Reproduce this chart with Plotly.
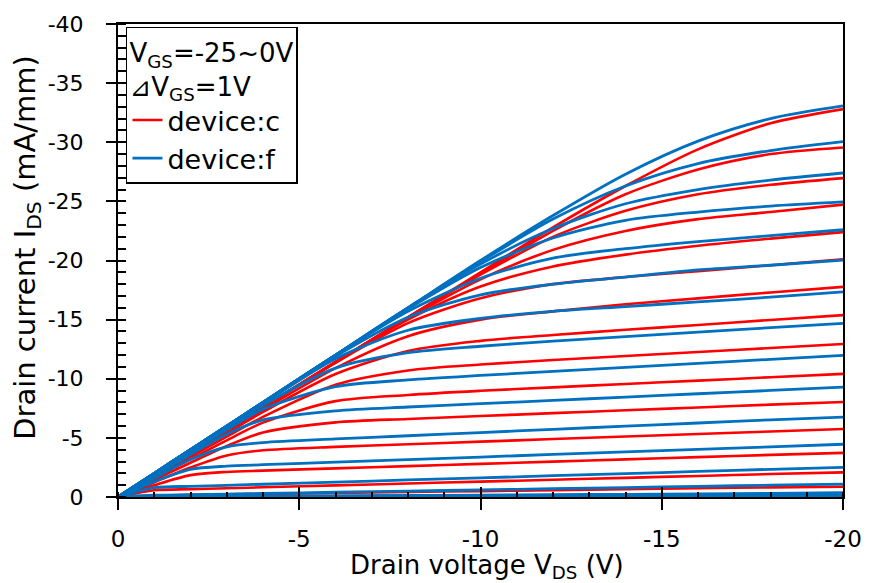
import plotly.graph_objects as go

# Drain voltage sample points (V)
vds = [0, -1, -2, -3, -4, -6, -8, -10, -12, -14, -16, -18, -20]

# Gate voltages, one output curve per step
vgs = [-25, -24, -23, -22, -21, -20, -19, -18, -17, -16, -15, -14, -13,
       -12, -11, -10, -9, -8, -7, -6, -5, -4, -3, -2, -1, 0]

# Drain current (mA/mm) for device c, ordered by vgs
ids_c = [
    [0, -1.9, -3.8, -5.7, -7.6, -11.4, -15.2, -19.0, -22.8, -26.3, -29.4, -31.6, -32.8],
    [0, -1.9, -3.8, -5.7, -7.6, -11.4, -15.2, -18.9, -22.5, -25.6, -27.7, -29.0, -29.56],
    [0, -1.9, -3.8, -5.7, -7.6, -11.4, -15.2, -18.8, -22.0, -24.2, -25.6, -26.4, -26.97],
    [0, -1.9, -3.8, -5.7, -7.6, -11.4, -15.1, -18.4, -20.9, -22.5, -23.5, -24.1, -24.73],
    [0, -1.9, -3.8, -5.7, -7.6, -11.4, -15.0, -17.8, -19.5, -20.5, -21.25, -21.85, -22.4],
    [0, -1.9, -3.8, -5.7, -7.6, -11.35, -14.7, -16.8, -18.0, -18.6, -19.1, -19.6, -20.1],
    [0, -1.85, -3.7, -5.55, -7.4, -10.9, -13.6, -15.0, -15.7, -16.3, -16.8, -17.3, -17.77],
    [0, -1.8, -3.6, -5.4, -7.19, -10.4, -12.35, -13.2, -13.7, -14.14, -14.55, -14.97, -15.38],
    [0, -1.7, -3.4, -5.1, -6.77, -9.49, -10.7, -11.2, -11.58, -11.92, -12.26, -12.6, -12.94],
    [0, -1.6, -3.2, -4.79, -6.29, -8.11, -8.63, -8.98, -9.27, -9.56, -9.84, -10.13, -10.41],
    [0, -1.45, -2.9, -4.31, -5.45, -6.31, -6.6, -6.85, -7.09, -7.33, -7.57, -7.81, -8.03],
    [0, -1.25, -2.49, -3.51, -3.95, -4.24, -4.46, -4.68, -4.9, -5.11, -5.33, -5.54, -5.75],
    [0, -1.0, -1.85, -2.12, -2.23, -2.42, -2.61, -2.8, -2.99, -3.18, -3.37, -3.56, -3.73],
    [0, -0.57, -0.66, -0.74, -0.82, -0.98, -1.14, -1.3, -1.46, -1.62, -1.78, -1.94, -2.08],
    [0, -0.13, -0.18, -0.22, -0.26, -0.34, -0.42, -0.5, -0.58, -0.66, -0.74, -0.81, -0.87],
    [0, -0.03, -0.05, -0.06, -0.07, -0.09, -0.11, -0.13, -0.15, -0.17, -0.2, -0.22, -0.25],
    [0, -0.02, -0.03, -0.03, -0.04, -0.05, -0.06, -0.06, -0.07, -0.08, -0.09, -0.1, -0.11],
    [0, -0.01, -0.02, -0.02, -0.03, -0.03, -0.04, -0.04, -0.05, -0.05, -0.06, -0.07, -0.07],
    [0, -0.01, -0.01, -0.02, -0.02, -0.02, -0.03, -0.03, -0.03, -0.04, -0.04, -0.05, -0.05],
    [0, -0.01, -0.01, -0.01, -0.02, -0.02, -0.02, -0.03, -0.03, -0.03, -0.04, -0.04, -0.04],
    [0, 0, -0.01, -0.01, -0.01, -0.02, -0.02, -0.02, -0.02, -0.03, -0.03, -0.03, -0.04],
    [0, 0, -0.01, -0.01, -0.01, -0.01, -0.02, -0.02, -0.02, -0.02, -0.03, -0.03, -0.03],
    [0, 0, 0, -0.01, -0.01, -0.01, -0.01, -0.02, -0.02, -0.02, -0.02, -0.03, -0.03],
    [0, 0, 0, -0.01, -0.01, -0.01, -0.01, -0.01, -0.02, -0.02, -0.02, -0.02, -0.03],
    [0, 0, 0, 0, -0.01, -0.01, -0.01, -0.01, -0.01, -0.02, -0.02, -0.02, -0.02],
    [0, 0, 0, 0, 0, -0.01, -0.01, -0.01, -0.01, -0.01, -0.02, -0.02, -0.02],
]

# Drain current (mA/mm) for device f, ordered by vgs
ids_f = [
    [0, -2.0, -4.0, -6.0, -8.0, -12.0, -16.0, -20.0, -23.8, -27.3, -30.1, -32.0, -33.07],
    [0, -2.0, -4.0, -6.0, -8.0, -12.0, -16.0, -19.9, -23.5, -26.3, -28.2, -29.3, -30.06],
    [0, -2.0, -4.0, -6.0, -8.0, -12.0, -16.0, -19.7, -22.7, -24.8, -26.0, -26.8, -27.4],
    [0, -2.0, -4.0, -6.0, -8.0, -12.0, -15.9, -19.4, -21.9, -23.4, -24.1, -24.6, -24.95],
    [0, -2.0, -4.0, -6.0, -8.0, -12.0, -15.7, -18.5, -20.2, -21.0, -21.6, -22.1, -22.6],
    [0, -2.0, -4.0, -6.0, -8.0, -11.9, -15.2, -17.1, -18.0, -18.6, -19.2, -19.6, -20.04],
    [0, -2.0, -4.0, -6.0, -7.9, -11.7, -14.1, -15.1, -15.7, -16.1, -16.5, -16.9, -17.35],
    [0, -1.95, -3.9, -5.85, -7.76, -10.9, -12.2, -12.75, -13.18, -13.56, -13.94, -14.32, -14.68],
    [0, -1.9, -3.8, -5.68, -7.43, -9.33, -9.9, -10.28, -10.62, -10.96, -11.3, -11.64, -11.98],
    [0, -1.8, -3.6, -5.31, -6.52, -7.29, -7.61, -7.89, -8.17, -8.45, -8.73, -9.01, -9.29],
    [0, -1.6, -3.17, -4.24, -4.6, -4.91, -5.18, -5.45, -5.72, -5.99, -6.26, -6.53, -6.76],
    [0, -1.3, -2.34, -2.61, -2.73, -2.95, -3.16, -3.38, -3.6, -3.81, -4.03, -4.24, -4.46],
    [0, -0.79, -0.9, -0.99, -1.08, -1.26, -1.44, -1.62, -1.8, -1.98, -2.16, -2.34, -2.5],
    [0, -0.15, -0.2, -0.25, -0.3, -0.4, -0.5, -0.6, -0.7, -0.8, -0.9, -1.0, -1.09],
    [0, -0.03, -0.05, -0.07, -0.08, -0.1, -0.13, -0.16, -0.19, -0.23, -0.27, -0.31, -0.36],
    [0, -0.01, -0.02, -0.02, -0.03, -0.04, -0.05, -0.06, -0.07, -0.08, -0.1, -0.12, -0.14],
    [0, -0.01, -0.01, -0.02, -0.02, -0.03, -0.03, -0.04, -0.04, -0.05, -0.06, -0.07, -0.08],
    [0, -0.01, -0.01, -0.01, -0.02, -0.02, -0.03, -0.03, -0.04, -0.04, -0.05, -0.05, -0.06],
    [0, 0, -0.01, -0.01, -0.01, -0.02, -0.02, -0.02, -0.03, -0.03, -0.03, -0.04, -0.05],
    [0, 0, -0.01, -0.01, -0.01, -0.01, -0.02, -0.02, -0.02, -0.03, -0.03, -0.03, -0.04],
    [0, 0, 0, -0.01, -0.01, -0.01, -0.02, -0.02, -0.02, -0.02, -0.03, -0.03, -0.03],
    [0, 0, 0, -0.01, -0.01, -0.01, -0.01, -0.02, -0.02, -0.02, -0.02, -0.03, -0.03],
    [0, 0, 0, 0, -0.01, -0.01, -0.01, -0.01, -0.02, -0.02, -0.02, -0.02, -0.03],
    [0, 0, 0, 0, -0.01, -0.01, -0.01, -0.01, -0.01, -0.02, -0.02, -0.02, -0.02],
    [0, 0, 0, 0, 0, -0.01, -0.01, -0.01, -0.01, -0.01, -0.01, -0.02, -0.02],
    [0, 0, 0, 0, 0, 0, -0.01, -0.01, -0.01, -0.01, -0.01, -0.01, -0.02],
]

# Axis ticks and labels
x_ticks = [0, -5, -10, -15, -20]
x_ticktext = ["0", "-5", "-10", "-15", "-20"]
y_ticks = [0, -5, -10, -15, -20, -25, -30, -35, -40]
y_ticktext = ["0", "-5", "-10", "-15", "-20", "-25", "-30", "-35", "-40"]

RED = "#FF0000"
BLUE = "#0070C0"
FONT = "DejaVu Sans"

fig = go.Figure()

for i, (g, curve) in enumerate(zip(vgs, ids_c)):
    fig.add_trace(go.Scatter(
        x=vds, y=curve, mode="lines",
        line=dict(color=RED, width=2.6, shape="spline", smoothing=0.8),
        name="device:c", legendgroup="c", showlegend=(i == 0),
        hovertemplate="V<sub>GS</sub>=%d V<br>V<sub>DS</sub>=%%{x} V<br>I<sub>DS</sub>=%%{y} mA/mm<extra>device:c</extra>" % g,
    ))

for i, (g, curve) in enumerate(zip(vgs, ids_f)):
    fig.add_trace(go.Scatter(
        x=vds, y=curve, mode="lines",
        line=dict(color=BLUE, width=2.8, shape="spline", smoothing=0.8),
        name="device:f", legendgroup="f", showlegend=(i == 0),
        hovertemplate="V<sub>GS</sub>=%d V<br>V<sub>DS</sub>=%%{x} V<br>I<sub>DS</sub>=%%{y} mA/mm<extra>device:f</extra>" % g,
    ))

# empty trace so the overlay axis (upper half of the crossing x ticks) is drawn
fig.add_trace(go.Scatter(x=[None], y=[None], xaxis="x2", showlegend=False, hoverinfo="skip"))

axis_common = dict(
    showgrid=False, zeroline=False, showline=True, linecolor="black",
    linewidth=2, mirror=True, tickcolor="black", tickwidth=2,
    layer="above traces",
)

fig.update_layout(
    width=874, height=583,
    margin=dict(l=118, r=26, t=22, b=86),
    paper_bgcolor="white", plot_bgcolor="white",
    font=dict(family=FONT, color="black"),
    xaxis=dict(
        range=[0, -20], tickmode="array", tickvals=x_ticks, ticktext=x_ticktext,
        ticks="outside", ticklen=11, ticklabelstandoff=9,
        tickfont=dict(family=FONT, size=23, color="black"),
        minor=dict(tickmode="linear", tick0=0, dtick=1, ticks="inside",
                   ticklen=5, tickwidth=1.5, tickcolor="black"),
        **axis_common,
    ),
    xaxis2=dict(
        range=[0, -20], overlaying="x", anchor="y", side="bottom",
        tickmode="array", tickvals=x_ticks, ticks="inside", ticklen=10,
        tickwidth=2, tickcolor="black", showticklabels=False,
        showgrid=False, zeroline=False, showline=False, layer="above traces",
    ),
    yaxis=dict(
        range=[0, -40], tickmode="array", tickvals=y_ticks, ticktext=y_ticktext,
        ticks="outside", ticklen=10, ticklabelstandoff=18,
        tickfont=dict(family=FONT, size=22, color="black"),
        minor=dict(tickmode="linear", tick0=0, dtick=1, ticks="inside",
                   ticklen=8, tickwidth=1.5, tickcolor="black"),
        **axis_common,
    ),
    legend=dict(
        x=0.011, y=0.994, xanchor="left", yanchor="top",
        bgcolor="white", bordercolor="black", borderwidth=1.5,
        font=dict(family=FONT, size=27, color="black"),
        title=dict(text="V<sub>GS</sub>=-25~0V<br>⊿V<sub>GS</sub>=1V",
                   font=dict(family=FONT, size=26, color="black"),
                   side="top"),
        itemwidth=30, tracegroupgap=0,
    ),
    annotations=[
        dict(text="Drain current I<sub>DS</sub> (mA/mm)", textangle=-90,
             xref="paper", yref="paper", x=-0.1247, y=0.528,
             xanchor="center", yanchor="middle", showarrow=False,
             font=dict(family=FONT, size=29, color="black")),
        dict(text="Drain voltage V<sub>DS</sub> (V)",
             xref="paper", yref="paper", x=0.5096, y=-0.146,
             xanchor="center", yanchor="middle", showarrow=False,
             font=dict(family=FONT, size=26, color="black")),
    ],
)

fig.write_html("out.html")
